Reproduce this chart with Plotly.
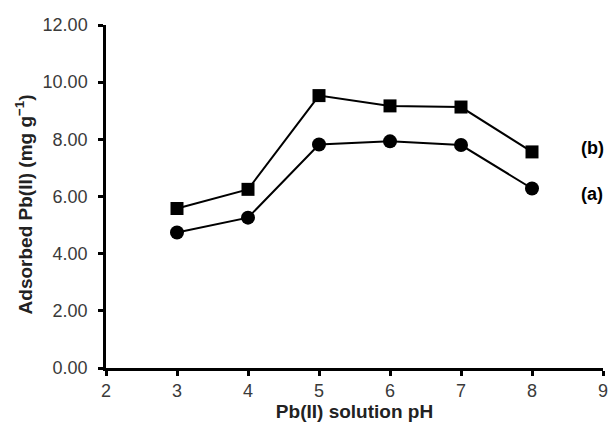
import plotly.graph_objects as go

ph = [3, 4, 5, 6, 7, 8]
series_b = [5.58, 6.25, 9.53, 9.17, 9.13, 7.56]
series_a = [4.74, 5.26, 7.82, 7.93, 7.80, 6.28]
y_ticks = [0, 2, 4, 6, 8, 10, 12]
x_ticks = [2, 3, 4, 5, 6, 7, 8, 9]

FONT = "Liberation Sans, Arial, sans-serif"

fig = go.Figure()
fig.add_trace(go.Scatter(x=ph, y=series_b, mode="lines+markers", name="(b)",
                         line=dict(color="black", width=2),
                         marker=dict(symbol="square", size=13, color="black")))
fig.add_trace(go.Scatter(x=ph, y=series_a, mode="lines+markers", name="(a)",
                         line=dict(color="black", width=2),
                         marker=dict(symbol="circle", size=14, color="black")))

fig.add_annotation(x=8.85, y=7.68, text="<b>(b)</b>", showarrow=False,
                   font=dict(family=FONT, size=18, color="black"))
fig.add_annotation(x=8.85, y=6.1, text="<b>(a)</b>", showarrow=False,
                   font=dict(family=FONT, size=18, color="black"))

fig.update_layout(
    width=612, height=423,
    margin=dict(l=106, r=4, t=25, b=55),
    plot_bgcolor="white", paper_bgcolor="white",
    showlegend=False,
    font=dict(family=FONT, color="#333333"),
)
fig.update_xaxes(range=[2, 9], tickvals=x_ticks, ticktext=[str(v) for v in x_ticks],
                 showgrid=False, zeroline=False, showline=True, linecolor="black", linewidth=2.5,
                 ticks="outside", ticklen=5, tickwidth=2.5, tickcolor="black",
                 ticklabeloverflow="allow",
                 tickfont=dict(family=FONT, size=18, color="#3a3a3a"),
                 title=dict(text="<b>Pb(II) solution pH</b>", standoff=0,
                            font=dict(family=FONT, size=19, color="#222222")))
fig.update_yaxes(range=[0, 12], tickvals=y_ticks, ticktext=[f"{v:.2f}" for v in y_ticks],
                 showgrid=False, zeroline=False, showline=True, linecolor="black", linewidth=2.5,
                 ticks="outside", ticklen=5, tickwidth=2.5, tickcolor="black",
                 ticklabelstandoff=7,
                 tickfont=dict(family=FONT, size=18, color="#3a3a3a"),
                 title=dict(text="<b>Adsorbed Pb(II) (mg g<sup>−1</sup>)&nbsp;&nbsp;&nbsp;</b>", standoff=5,
                            font=dict(family=FONT, size=19, color="#222222")))

fig.write_html("out.html")
